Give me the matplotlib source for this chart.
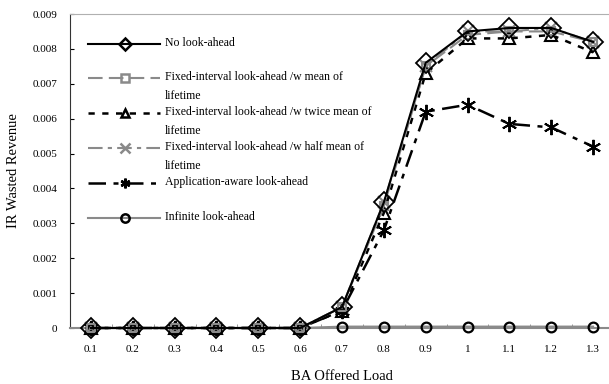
import matplotlib
matplotlib.use("Agg")
import matplotlib.pyplot as plt
from matplotlib.lines import Line2D

plt.rcParams['font.family'] = ['Liberation Serif', 'DejaVu Serif']

loads = ['0.1', '0.2', '0.3', '0.4', '0.5', '0.6', '0.7', '0.8', '0.9', '1', '1.1', '1.2', '1.3']
no_lookahead = [0, 0, 0, 0, 0, 0, 0.0006, 0.0036, 0.0076, 0.0085, 0.0086, 0.0086, 0.0082]
fixed_mean = [0, 0, 0, 0, 0, 0, 0.0006, 0.0035, 0.0075, 0.0084, 0.0085, 0.0085, 0.0082]
fixed_twice = [0, 0, 0, 0, 0, 0, 0.0005, 0.0033, 0.0073, 0.0083, 0.0083, 0.0084, 0.0079]
fixed_half = [0, 0, 0, 0, 0, 0, 0.0006, 0.0036, 0.0075, 0.0085, 0.0085, 0.0086, 0.0082]
app_aware = [0, 0, 0, 0, 0, 0, 0.0005, 0.0028, 0.0062, 0.0064, 0.00585, 0.00575, 0.0052]
infinite = [0, 0, 0, 0, 0, 0, 0.00004, 0.00004, 0.00004, 0.00004, 0.00004, 0.00004, 0.00004]

labels = ['No look-ahead',
          'Fixed-interval look-ahead /w mean of\nlifetime',
          'Fixed-interval look-ahead /w twice mean of\nlifetime',
          'Fixed-interval look-ahead /w half mean of\nlifetime',
          'Application-aware look-ahead',
          'Infinite look-ahead']

gray = '#8a8a8a'
styles = [
    dict(color='black', ls='-', lw=1.5, marker='D', mfc='none', mec='black', ms=10, mew=1.3),
    dict(color=gray, ls=(0, (7, 3)), lw=1.5, marker='s', mfc='none', mec=gray, ms=6, mew=1.5),
    dict(color='black', ls=(0, (2.5, 3)), lw=1.8, marker='^', mfc='none', mec='black', ms=9, mew=1.5),
    dict(color=gray, ls=(0, (7, 2.5, 2, 2.5)), lw=1.5, marker='x', mfc='none', mec=gray, ms=9, mew=1.5),
    dict(color='black', ls=(0, (7, 3, 2, 3)), lw=1.8, marker=(6, 2, 0), mec='black', ms=11, mew=1.4),
    dict(color=gray, ls='-', lw=1.5, marker='o', mfc='none', mec='black', ms=7, mew=1.6),
]
legend_ms = [6, 6, 6, 7, 7, 6]
series = [no_lookahead, fixed_mean, fixed_twice, fixed_half, app_aware, infinite]

fig = plt.figure(figsize=(6.09, 3.84), dpi=100)
ax = fig.add_axes([70 / 609, 1 - 328 / 384, 544 / 609, 314 / 384])

x = list(range(len(loads)))
order = [5, 4, 3, 2, 1, 0]
for k in order:
    ax.plot(x, series[k], clip_on=False, zorder=3 + (5 - k), **styles[k])

ax.set_xlim(-0.5, len(loads) - 0.5)
ax.set_ylim(0, 0.009)
ax.set_yticks([i * 0.001 for i in range(10)])
ax.set_yticklabels(['0'] + ['%.3f' % (i * 0.001) for i in range(1, 10)])
ax.set_xticks(x)
ax.set_xticklabels(loads)
ax.set_xticks([i + 0.5 for i in range(len(loads) - 1)], minor=True)
ax.tick_params(axis='x', which='major', length=0, labelsize=8, pad=12)
ax.tick_params(axis='x', which='minor', length=3, direction='in', color=gray)
ax.tick_params(axis='y', which='major', length=3, direction='in', labelsize=8, pad=9)
ax.spines['right'].set_visible(False)
ax.spines['top'].set_color('#b0b0b0')
ax.spines['bottom'].set_color(gray)
ax.spines['bottom'].set_linewidth(1.5)
ax.spines['left'].set_color('#333333')
ax.set_ylabel('IR Wasted Revenue', fontsize=10.5, labelpad=9)
ax.set_xlabel('BA Offered Load', fontsize=10.5, labelpad=12)

# hand-built legend in the upper left
rows_y = [44, 78, 113, 148, 183, 218]
for k in range(len(labels)):
    yy = 1 - rows_y[k] / 384
    st = dict(styles[k])
    line = Line2D([88 / 609, 160 / 609], [yy, yy], transform=fig.transFigure,
                  color=st['color'], ls=st['ls'], lw=st['lw'])
    fig.add_artist(line)
    mk = Line2D([125 / 609], [yy], transform=fig.transFigure, ls='none',
                marker=st['marker'], mfc='none', mec=st['mec'], ms=legend_ms[k], mew=1.8)
    fig.add_artist(mk)
    fig.text(165 / 609, yy + 7 / 384, labels[k], fontsize=8.5, va='top', ha='left', linespacing=1.75)

fig.savefig('out.png', dpi=100)
